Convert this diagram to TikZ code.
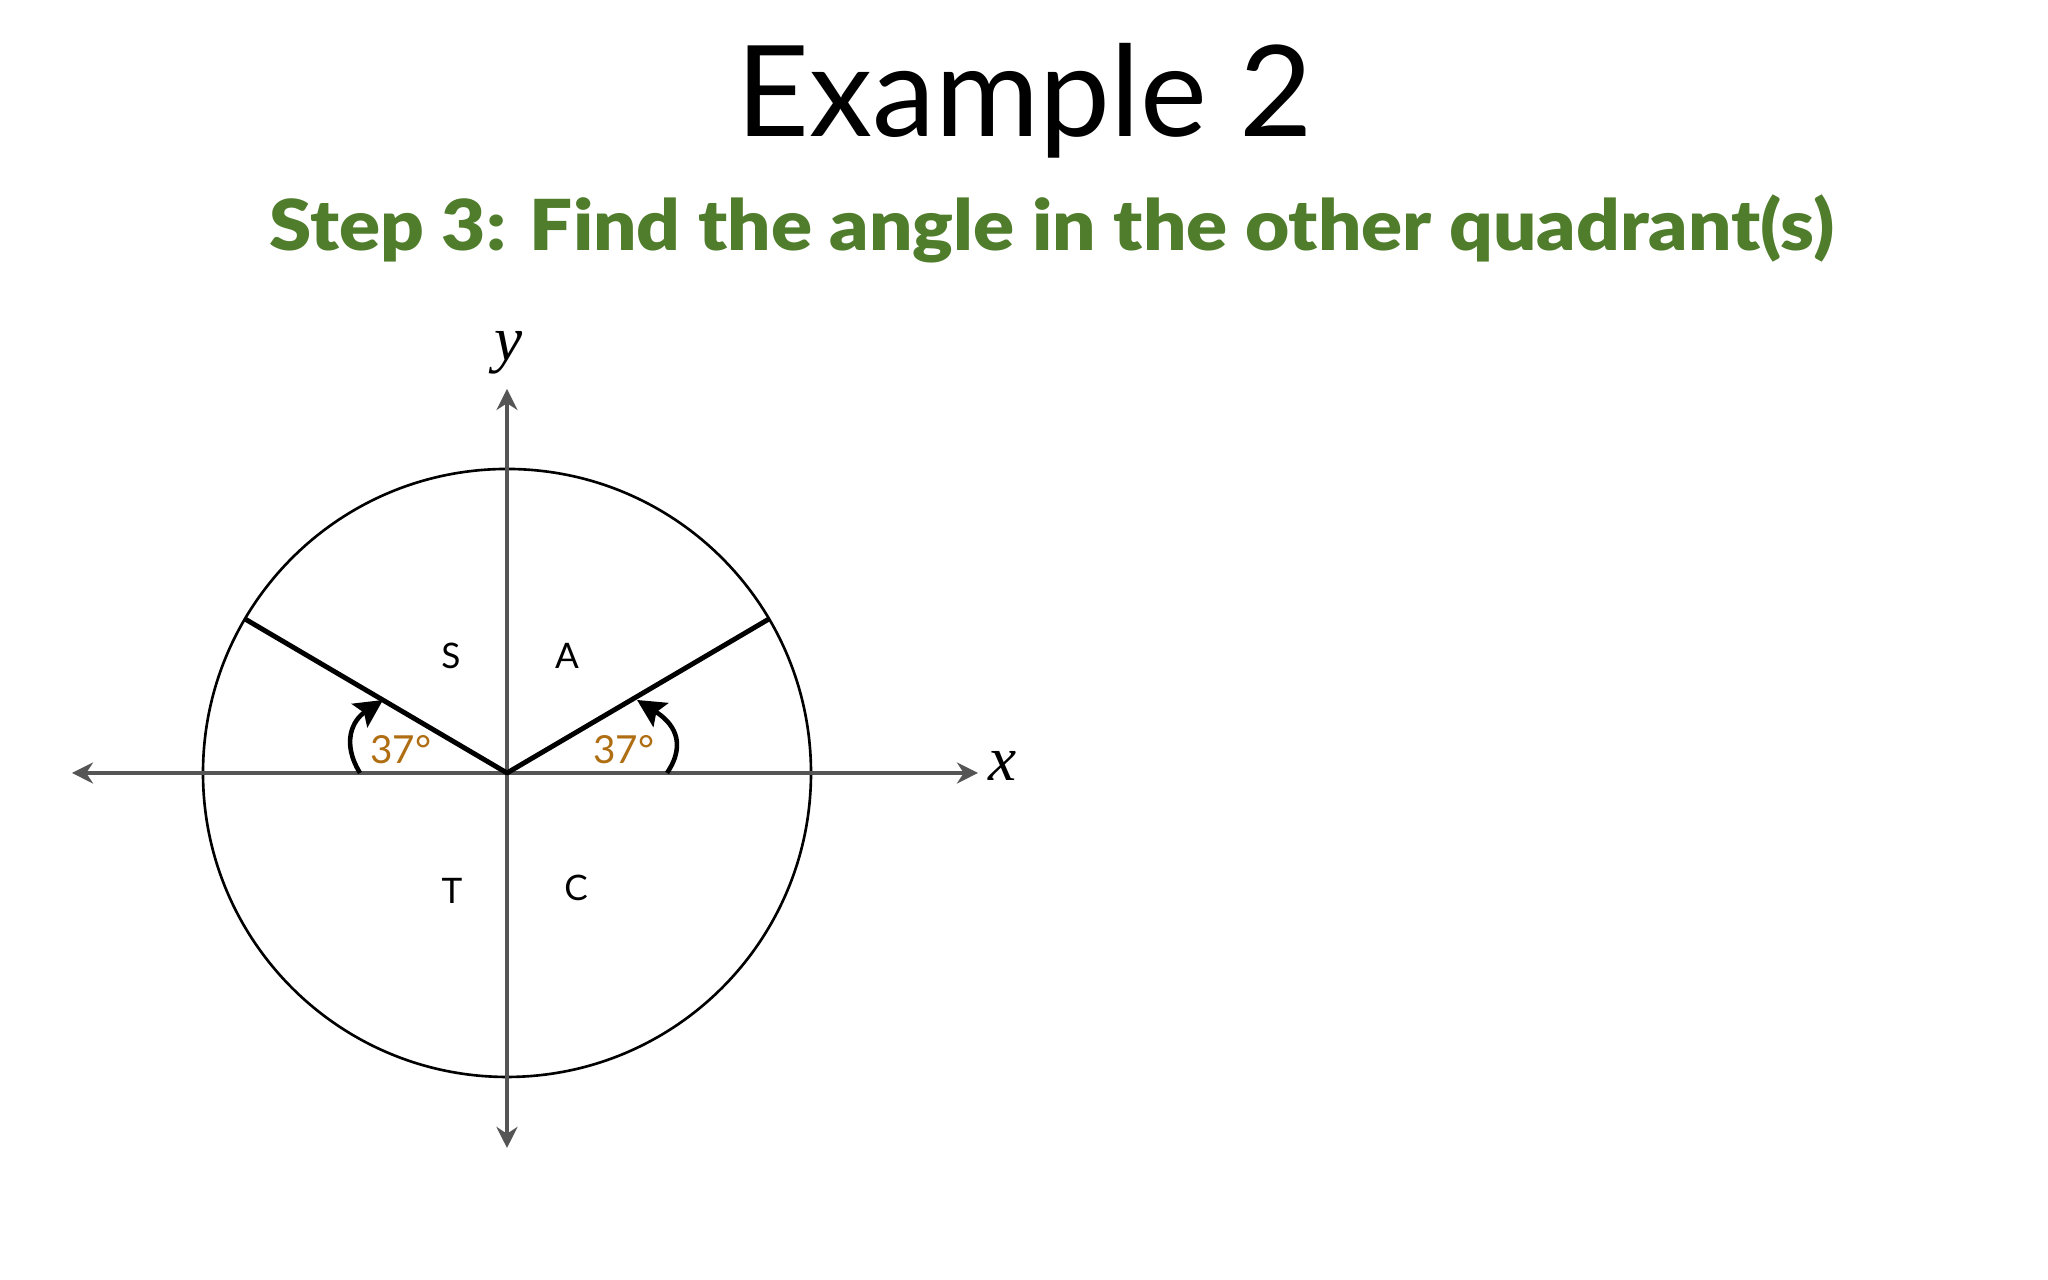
\documentclass[tikz,border=0pt]{standalone}
\usepackage{amsmath}
\usepackage{fontspec}
\setmainfont{Lato}
\IfFontExistsTF{Lato Black}
    {\newfontfamily\stepfont{Lato Black}[FakeStretch = 1.085]}
    {\newfontfamily\stepfont{Lato}[FakeStretch = 1.1, UprightFont = *-Bold]}
\newfontfamily\varfont{Liberation Serif}
\usepackage{xcolor}
\usepackage{tikz}
\usetikzlibrary{arrows.meta}

\definecolor{stepgreen}{RGB}{80,125,44}
\definecolor{anglebrown}{RGB}{175,110,18}
\definecolor{axisgray}{RGB}{85,85,85}

\begin{document}
\begin{tikzpicture}
        \useasboundingbox[fill = white] (0, 0) rectangle (20.48, 12.8);

        \node[anchor = base] (title) at (10.25, 11.43) {\fontsize{36}{40}\selectfont Example 2};
        \node[anchor = base, text = stepgreen] (step) at (10.52, 10.29)
            {\fontsize{20}{22}\stepfont Step 3: Find the angle in the other quadrant(s)};

        \coordinate (O) at (5.07, 5.07);
        \coordinate (xl) at (0.72, 5.07);
        \coordinate (xr) at (9.78, 5.07);
        \coordinate (yb) at (5.07, 1.32);
        \coordinate (yt) at (5.07, 8.91);
        \coordinate (PA) at (7.69, 6.61);
        \coordinate (PS) at (2.45, 6.61);

        \draw[black, line width = 0.75pt] (O) circle(3.04);

        \draw[axisgray, line width = 0.9pt, {Stealth[length = 6pt, width = 6pt]}-{Stealth[length = 6pt, width = 6pt]}] (xl) -- (xr);
        \draw[axisgray, line width = 0.9pt, {Stealth[length = 6pt, width = 6pt]}-{Stealth[length = 6pt, width = 6pt]}] (yb) -- (yt);
        \node (xlab) at (10.03, 5.14) {\fontsize{18}{18}\varfont\itshape x};
        \node (ylab) at (5.09, 9.27) {\fontsize{18}{18}\varfont\itshape y};

        \draw[line width = 1.4pt, line join = round] (PS) -- (O) -- (PA);

        \draw[line width = 1.3pt, -{Stealth[length = 8pt, width = 8pt, inset = 1.5pt]}] (6.67, 5.07)
            .. controls (6.88, 5.38) and (6.72, 5.58) .. (6.37, 5.80);
        \draw[line width = 1.3pt, -{Stealth[length = 8pt, width = 8pt, inset = 1.5pt]}] (3.60, 5.07)
            .. controls (3.41, 5.38) and (3.53, 5.60) .. (3.83, 5.80);

        \node[text = anglebrown] (angA) at (6.24, 5.30) {\fontsize{11}{11}\selectfont 37°};
        \node[text = anglebrown] (angS) at (4.01, 5.30) {\fontsize{11}{11}\selectfont 37°};

        \node (S) at (4.51, 6.24) {S};
        \node (A) at (5.67, 6.24) {A};
        \node (T) at (4.52, 3.89) {T};
        \node (C) at (5.76, 3.92) {C};
    \end{tikzpicture}
\end{document}
